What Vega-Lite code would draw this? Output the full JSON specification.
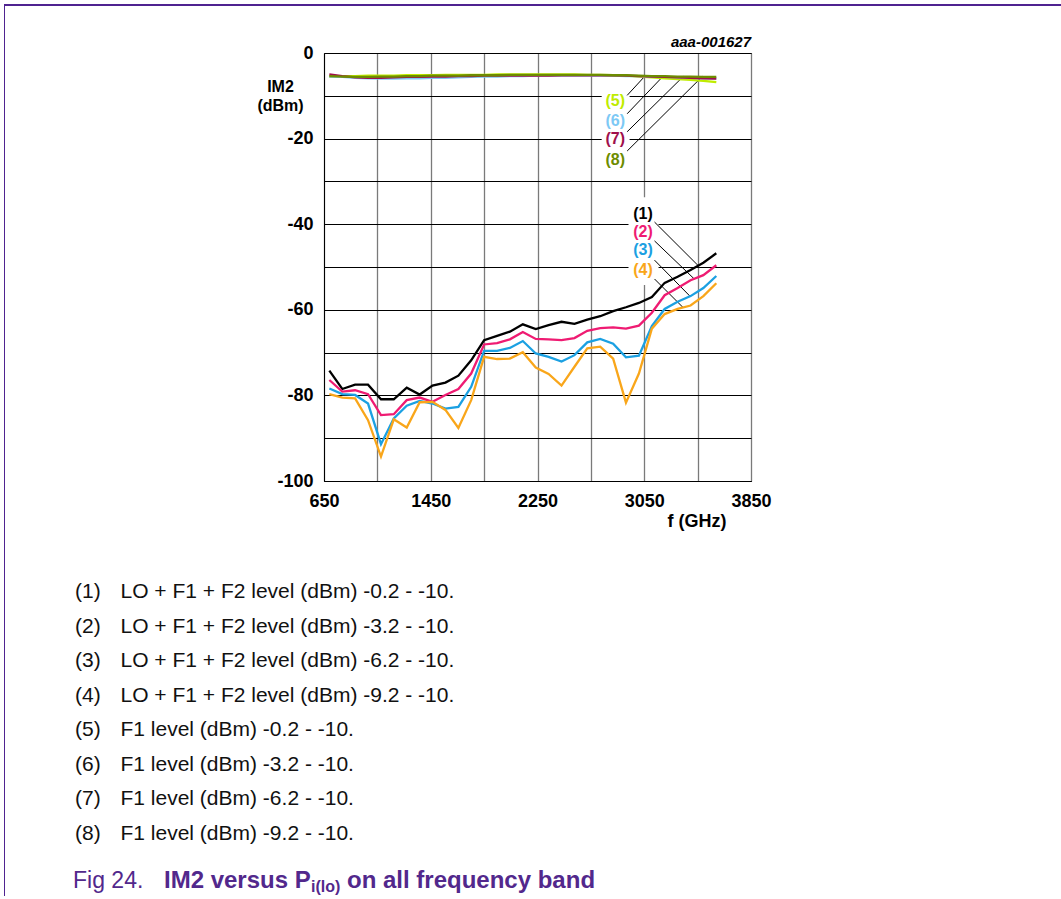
{
  "$schema": "https://vega.github.io/schema/vega-lite/v6.json",
  "background": "#ffffff",
  "padding": {"left": 4, "top": 4, "right": 0, "bottom": 0},
  "config": {"view": {"stroke": null}, "font": "Liberation Sans"},
  "datasets": {
    "im2": [
      {"f": 690, "c1": -74.2, "c2": -76.4, "c3": -78.4, "c4": -79.7, "c5": -5.5, "c6": -5.5, "c7": -5.0, "c8": -5.4},
      {"f": 787, "c1": -78.5, "c2": -79.1, "c3": -79.7, "c4": -80.5, "c5": -5.4, "c6": -5.6, "c7": -5.4, "c8": -5.5},
      {"f": 883, "c1": -77.5, "c2": -78.8, "c3": -79.9, "c4": -80.7, "c5": -5.4, "c6": -5.8, "c7": -5.7, "c8": -5.6},
      {"f": 980, "c1": -77.5, "c2": -79.7, "c3": -81.9, "c4": -85.8, "c5": -5.3, "c6": -5.9, "c7": -5.8, "c8": -5.6},
      {"f": 1077, "c1": -80.9, "c2": -84.6, "c3": -91.4, "c4": -94.3, "c5": -5.3, "c6": -6.0, "c7": -5.8, "c8": -5.5},
      {"f": 1173, "c1": -80.9, "c2": -84.4, "c3": -85.4, "c4": -85.6, "c5": -5.3, "c6": -6.0, "c7": -5.7, "c8": -5.5},
      {"f": 1270, "c1": -78.2, "c2": -81.1, "c3": -82.4, "c4": -87.5, "c5": -5.2, "c6": -5.9, "c7": -5.6, "c8": -5.4},
      {"f": 1367, "c1": -79.8, "c2": -80.5, "c3": -81.3, "c4": -81.6, "c5": -5.2, "c6": -5.9, "c7": -5.6, "c8": -5.4},
      {"f": 1463, "c1": -77.7, "c2": -81.5, "c3": -81.9, "c4": -81.5, "c5": -5.2, "c6": -5.8, "c7": -5.5, "c8": -5.3},
      {"f": 1560, "c1": -77.0, "c2": -79.9, "c3": -83.1, "c4": -83.4, "c5": -5.1, "c6": -5.8, "c7": -5.5, "c8": -5.3},
      {"f": 1657, "c1": -75.4, "c2": -78.5, "c3": -82.7, "c4": -87.6, "c5": -5.1, "c6": -5.7, "c7": -5.4, "c8": -5.3},
      {"f": 1753, "c1": -71.8, "c2": -74.9, "c3": -78.0, "c4": -81.1, "c5": -5.1, "c6": -5.6, "c7": -5.4, "c8": -5.2},
      {"f": 1850, "c1": -67.1, "c2": -68.1, "c3": -69.6, "c4": -71.0, "c5": -5.1, "c6": -5.5, "c7": -5.3, "c8": -5.2},
      {"f": 1947, "c1": -66.1, "c2": -67.8, "c3": -69.6, "c4": -71.5, "c5": -5.0, "c6": -5.5, "c7": -5.3, "c8": -5.2},
      {"f": 2043, "c1": -65.1, "c2": -66.9, "c3": -68.9, "c4": -71.4, "c5": -5.0, "c6": -5.4, "c7": -5.3, "c8": -5.1},
      {"f": 2140, "c1": -63.4, "c2": -65.2, "c3": -67.3, "c4": -69.9, "c5": -5.0, "c6": -5.4, "c7": -5.3, "c8": -5.1},
      {"f": 2237, "c1": -64.5, "c2": -66.8, "c3": -70.2, "c4": -73.5, "c5": -5.0, "c6": -5.3, "c7": -5.3, "c8": -5.1},
      {"f": 2333, "c1": -63.6, "c2": -66.9, "c3": -71.0, "c4": -75.0, "c5": -5.0, "c6": -5.3, "c7": -5.3, "c8": -5.1},
      {"f": 2430, "c1": -62.8, "c2": -67.1, "c3": -72.1, "c4": -77.7, "c5": -5.0, "c6": -5.3, "c7": -5.2, "c8": -5.1},
      {"f": 2527, "c1": -63.3, "c2": -66.6, "c3": -70.6, "c4": -73.3, "c5": -5.0, "c6": -5.3, "c7": -5.2, "c8": -5.1},
      {"f": 2623, "c1": -62.3, "c2": -64.9, "c3": -67.6, "c4": -69.0, "c5": -5.1, "c6": -5.3, "c7": -5.2, "c8": -5.1},
      {"f": 2720, "c1": -61.5, "c2": -64.3, "c3": -66.8, "c4": -68.6, "c5": -5.1, "c6": -5.3, "c7": -5.2, "c8": -5.1},
      {"f": 2817, "c1": -60.3, "c2": -64.1, "c3": -67.9, "c4": -71.4, "c5": -5.2, "c6": -5.3, "c7": -5.2, "c8": -5.2},
      {"f": 2913, "c1": -59.4, "c2": -64.4, "c3": -71.1, "c4": -81.7, "c5": -5.3, "c6": -5.4, "c7": -5.3, "c8": -5.2},
      {"f": 3010, "c1": -58.4, "c2": -63.7, "c3": -70.7, "c4": -74.9, "c5": -5.5, "c6": -5.4, "c7": -5.4, "c8": -5.3},
      {"f": 3107, "c1": -57.0, "c2": -60.7, "c3": -63.8, "c4": -64.4, "c5": -5.7, "c6": -5.5, "c7": -5.5, "c8": -5.4},
      {"f": 3203, "c1": -53.7, "c2": -56.6, "c3": -59.8, "c4": -61.0, "c5": -5.9, "c6": -5.6, "c7": -5.6, "c8": -5.4},
      {"f": 3300, "c1": -52.3, "c2": -54.9, "c3": -58.1, "c4": -59.8, "c5": -6.1, "c6": -5.7, "c7": -5.7, "c8": -5.5},
      {"f": 3397, "c1": -50.7, "c2": -53.1, "c3": -56.8, "c4": -59.0, "c5": -6.3, "c6": -5.8, "c7": -5.8, "c8": -5.5},
      {"f": 3493, "c1": -49.0, "c2": -51.9, "c3": -54.9, "c4": -56.8, "c5": -6.5, "c6": -5.9, "c7": -5.9, "c8": -5.6},
      {"f": 3590, "c1": -46.8, "c2": -49.6, "c3": -52.1, "c4": -53.8, "c5": -6.8, "c6": -6.0, "c7": -6.0, "c8": -5.6}
    ],
    "tags": [
      {"tag": "(1)", "series": "c1", "lx": 3041, "ly": -37.6, "ax": 3127, "ay": -39.5, "bx": 3455, "by": -49.7},
      {"tag": "(2)", "series": "c2", "lx": 3041, "ly": -41.8, "ax": 3127, "ay": -43.9, "bx": 3425, "by": -52.8},
      {"tag": "(3)", "series": "c3", "lx": 3041, "ly": -46.1, "ax": 3127, "ay": -48.4, "bx": 3392, "by": -56.8},
      {"tag": "(4)", "series": "c4", "lx": 3041, "ly": -50.8, "ax": 3127, "ay": -52.8, "bx": 3342, "by": -59.5},
      {"tag": "(5)", "series": "c5", "lx": 2833, "ly": -11.2, "ax": 2922, "ay": -9.9, "bx": 3055, "by": -5.4},
      {"tag": "(6)", "series": "c6", "lx": 2833, "ly": -15.8, "ax": 2922, "ay": -14.2, "bx": 3192, "by": -5.4},
      {"tag": "(7)", "series": "c7", "lx": 2833, "ly": -20.2, "ax": 2922, "ay": -18.4, "bx": 3342, "by": -5.5},
      {"tag": "(8)", "series": "c8", "lx": 2833, "ly": -24.9, "ax": 2922, "ay": -22.9, "bx": 3485, "by": -5.5}
    ],
    "boxes": [
      {"bx1": 2932, "bx2": 3157, "by1": -33.7, "by2": -54.2},
      {"bx1": 2731, "bx2": 2940, "by1": -8.0, "by2": -28.0}
    ],
    "caption": [
      {"k": 1, "line": "(1)\u2004\u2004\u00a0LO + F1 + F2 level (dBm) -0.2 - -10."},
      {"k": 2, "line": "(2)\u2004\u2004\u00a0LO + F1 + F2 level (dBm) -3.2 - -10."},
      {"k": 3, "line": "(3)\u2004\u2004\u00a0LO + F1 + F2 level (dBm) -6.2 - -10."},
      {"k": 4, "line": "(4)\u2004\u2004\u00a0LO + F1 + F2 level (dBm) -9.2 - -10."},
      {"k": 5, "line": "(5)\u2004\u2004\u00a0F1 level (dBm) -0.2 - -10."},
      {"k": 6, "line": "(6)\u2004\u2004\u00a0F1 level (dBm) -3.2 - -10."},
      {"k": 7, "line": "(7)\u2004\u2004\u00a0F1 level (dBm) -6.2 - -10."},
      {"k": 8, "line": "(8)\u2004\u2004\u00a0F1 level (dBm) -9.2 - -10."}
    ],
    "fig": [
      {"num": "Fig 24.", "head": "IM2 versus P", "sub": "i(lo)", "tail": "on all frequency band"}
    ]
  },
  "spacing": 0,
  "hconcat": [
    {
      "width": 1, "height": 892,
      "data": {"values": []},
      "mark": "point",
      "view": {"fill": "#4f2390", "stroke": null}
    },
    {
      "spacing": 44,
      "vconcat": [
        {
          "spacing": 28,
          "vconcat": [
            {
              "width": 1056, "height": 2,
              "data": {"values": []},
              "mark": "point",
              "view": {"fill": "#4f2390", "stroke": null}
            },
            {
              "spacing": 0,
              "hconcat": [
                {"width": 251, "height": 1, "data": {"values": []}, "mark": "point"},
                {
                  "width": 427,
                  "height": 428,
                  "view": {"stroke": "#000000", "strokeWidth": 1},
                  "title": {
                    "text": "aaa-001627", "anchor": "end", "frame": "group",
                    "font": "Liberation Sans", "fontSize": 15, "fontWeight": "bold", "fontStyle": "italic",
                    "color": "#000000", "baseline": "bottom", "offset": -21
                  },
                  "layer": [
                    {
                      "data": {"name": "boxes"},
                      "mark": {"type": "rect", "fill": "#ffffff", "stroke": null},
                      "encoding": {
                        "x": {
                          "field": "bx1", "type": "quantitative",
                          "scale": {"domain": [650, 3850], "nice": false, "zero": false},
                          "axis": {
                            "values": [650, 850, 1050, 1250, 1450, 1650, 1850, 2050, 2250, 2450, 2650, 2850, 3050, 3250, 3450, 3650, 3850],
                            "labelExpr": "(datum.value - 650) % 800 == 0 ? '' + datum.value : ''",
                            "labelFont": "Liberation Sans", "labelFontSize": 18, "labelFontWeight": "bold",
                            "labelColor": "#000000", "labelPadding": 11, "labelFlush": false, "labelOverlap": false,
                            "ticks": false, "domainColor": "#000000", "domainWidth": 1,
                            "grid": true, "gridColor": "#7a7a7a", "gridWidth": 1.3,
                            "title": "f (GHz)", "titleFont": "Liberation Sans", "titleFontSize": 18,
                            "titleFontWeight": "bold", "titleColor": "#000000",
                            "titleAlign": "right", "titleX": 402, "titleY": 45, "titleBaseline": "alphabetic"
                          }
                        },
                        "x2": {"field": "bx2"},
                        "y": {
                          "field": "by1", "type": "quantitative",
                          "scale": {"domain": [-100, 0], "nice": false, "zero": false},
                          "axis": {
                            "values": [-100, -90, -80, -70, -60, -50, -40, -30, -20, -10, 0],
                            "labelExpr": "datum.value % 20 == 0 ? '' + datum.value : ''",
                            "labelFont": "Liberation Sans", "labelFontSize": 18, "labelFontWeight": "bold",
                            "labelColor": "#000000", "labelPadding": 11, "labelFlush": false, "labelOverlap": false,
                            "ticks": false, "domainColor": "#000000", "domainWidth": 1,
                            "grid": true, "gridColor": "#000000", "gridWidth": 1,
                            "title": ["IM2", "(dBm)"], "titleFont": "Liberation Sans", "titleFontSize": 16,
                            "titleFontWeight": "bold", "titleColor": "#000000", "titleAngle": 0,
                            "titleAlign": "center", "titleBaseline": "alphabetic", "titleLineHeight": 19,
                            "titleX": -44, "titleY": 38
                          }
                        },
                        "y2": {"field": "by2"}
                      }
                    },
                    {
                      "data": {"name": "tags"},
                      "mark": {"type": "rule", "color": "#000000", "strokeWidth": 1},
                      "encoding": {
                        "x": {"field": "ax", "type": "quantitative", "scale": {"domain": [650, 3850], "nice": false, "zero": false}},
                        "x2": {"field": "bx"},
                        "y": {"field": "ay", "type": "quantitative", "scale": {"domain": [-100, 0], "nice": false, "zero": false}},
                        "y2": {"field": "by"}
                      }
                    },
                    {
                      "data": {"name": "im2"},
                      "transform": [{"fold": ["c1", "c2", "c3", "c4", "c5", "c6", "c7", "c8"], "as": ["series", "im2"]}],
                      "mark": {"type": "line", "strokeWidth": 2.3},
                      "encoding": {
                        "x": {"field": "f", "type": "quantitative", "scale": {"domain": [650, 3850], "nice": false, "zero": false}},
                        "y": {"field": "im2", "type": "quantitative", "scale": {"domain": [-100, 0], "nice": false, "zero": false}},
                        "color": {
                          "field": "series", "type": "nominal", "legend": null,
                          "scale": {
                            "domain": ["c1", "c2", "c3", "c4", "c5", "c6", "c7", "c8"],
                            "range": ["#000000", "#ef1b72", "#1ba0e2", "#f9a61a", "#bfec00", "#7dc9f5", "#a0104c", "#6d8c00"]
                          }
                        }
                      }
                    },
                    {
                      "data": {"name": "tags"},
                      "mark": {"type": "text", "font": "Liberation Sans", "fontSize": 16, "fontWeight": "bold", "align": "center", "baseline": "middle"},
                      "encoding": {
                        "x": {"field": "lx", "type": "quantitative", "scale": {"domain": [650, 3850], "nice": false, "zero": false}},
                        "y": {"field": "ly", "type": "quantitative", "scale": {"domain": [-100, 0], "nice": false, "zero": false}},
                        "text": {"field": "tag", "type": "nominal"},
                        "color": {
                          "field": "series", "type": "nominal", "legend": null,
                          "scale": {
                            "domain": ["c1", "c2", "c3", "c4", "c5", "c6", "c7", "c8"],
                            "range": ["#000000", "#ef1b72", "#1ba0e2", "#f9a61a", "#bfec00", "#7dc9f5", "#a0104c", "#6d8c00"]
                          }
                        }
                      }
                    }
                  ]
                }
              ]
            }
          ]
        },
        {
          "spacing": 18,
          "vconcat": [
            {
              "width": 140,
              "height": {"step": 34.5},
              "data": {"name": "caption"},
              "mark": {"type": "text", "align": "left", "baseline": "middle", "font": "Liberation Sans", "fontSize": 21, "color": "#111111"},
              "encoding": {
                "y": {"field": "k", "type": "ordinal", "axis": null},
                "text": {"field": "line", "type": "nominal"}
              }
            },
            {
              "width": 136,
              "height": 16,
              "data": {"name": "fig"},
              "layer": [
                {
                  "mark": {"type": "text", "align": "left", "baseline": "alphabetic", "font": "Liberation Sans", "fontSize": 23, "color": "#52288c"},
                  "encoding": {"text": {"field": "num", "type": "nominal"}}
                },
                {
                  "mark": {"type": "text", "align": "left", "baseline": "alphabetic", "font": "Liberation Sans", "fontSize": 24, "fontWeight": "bold", "color": "#52288c", "dx": 91},
                  "encoding": {"text": {"field": "head", "type": "nominal"}}
                },
                {
                  "mark": {"type": "text", "align": "left", "baseline": "alphabetic", "font": "Liberation Sans", "fontSize": 16, "fontWeight": "bold", "color": "#52288c", "dx": 238, "dy": 4},
                  "encoding": {"text": {"field": "sub", "type": "nominal"}}
                },
                {
                  "mark": {"type": "text", "align": "left", "baseline": "alphabetic", "font": "Liberation Sans", "fontSize": 24, "fontWeight": "bold", "color": "#52288c", "dx": 274},
                  "encoding": {"text": {"field": "tail", "type": "nominal"}}
                }
              ]
            }
          ]
        }
      ]
    }
  ]
}
